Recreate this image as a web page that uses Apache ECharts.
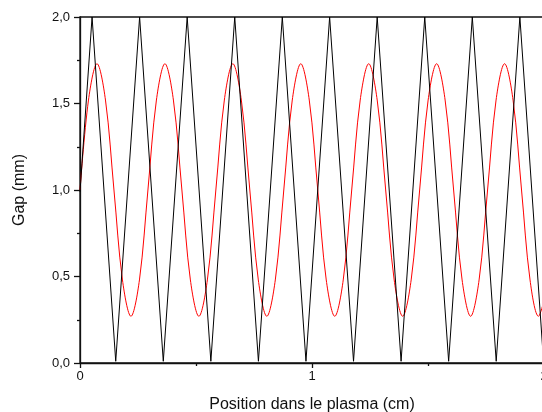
<!DOCTYPE html>
<html>
<head>
<meta charset="utf-8">
<script src="https://cdn.jsdelivr.net/npm/echarts@6/dist/echarts.min.js"></script>
<style>
html,body{margin:0;padding:0;background:#fff;}
#c{width:542px;height:412px;}
</style>
</head>
<body>
<div id="c"></div>
<script>
// Black triangle wave: vertex positions (cm) and gap (mm)
var blackX = [0, 0.052, 0.154, 0.257, 0.359, 0.462, 0.564, 0.667, 0.769, 0.872, 0.974,
              1.076, 1.179, 1.281, 1.384, 1.486, 1.589, 1.691, 1.794, 1.896, 1.998];
var blackY = [0.99, 2.0, 0.01, 2.0, 0.01, 2.0, 0.01, 2.0, 0.01, 2.0, 0.01,
              2.0, 0.01, 2.0, 0.01, 2.0, 0.01, 2.0, 0.01, 2.0, 0.01];

// Red curve: points (cm, mm)
var redX = [0, 0.0366, 0.0732, 0.1098, 0.1464, 0.1830, 0.2196, 0.2562,
            0.2928, 0.3294, 0.3660, 0.4026, 0.4392, 0.4758, 0.5124, 0.5490,
            0.5856, 0.6222, 0.6588, 0.6954, 0.7320, 0.7686, 0.8052, 0.8418,
            0.8784, 0.9150, 0.9516, 0.9882, 1.0248, 1.0614, 1.0980, 1.1346,
            1.1712, 1.2078, 1.2444, 1.2810, 1.3176, 1.3542, 1.3908, 1.4274,
            1.4640, 1.5006, 1.5372, 1.5738, 1.6104, 1.6470, 1.6836, 1.7202,
            1.7568, 1.7934, 1.8300, 1.8666, 1.9032, 1.9398, 1.9764, 2.0];
var redY = [1.00, 1.52, 1.73, 1.52, 1.00, 0.48, 0.27, 0.48,
            1.00, 1.52, 1.73, 1.52, 1.00, 0.48, 0.27, 0.48,
            1.00, 1.52, 1.73, 1.52, 1.00, 0.48, 0.27, 0.48,
            1.00, 1.52, 1.73, 1.52, 1.00, 0.48, 0.27, 0.48,
            1.00, 1.52, 1.73, 1.52, 1.00, 0.48, 0.27, 0.48,
            1.00, 1.52, 1.73, 1.52, 1.00, 0.48, 0.27, 0.48,
            1.00, 1.52, 1.73, 1.52, 1.00, 0.48, 0.27, 0.36];

var xTicks = [0, 1, 2];
var yTicks = [0, 0.5, 1.0, 1.5, 2.0];

var chart = echarts.init(document.getElementById('c'), null, {renderer: 'canvas'});
var font = 'Liberation Sans, Arial, sans-serif';

function pairs(xs, ys) { return xs.map(function (x, i) { return [x, ys[i]]; }); }

chart.setOption({
  animation: false,
  backgroundColor: '#fff',
  grid: {
    left: 80, top: 17, width: 464, height: 346,
    outerBoundsMode: 'none', containLabel: false,
    show: true, borderColor: '#111', borderWidth: 1.3, backgroundColor: 'transparent'
  },
  xAxis: {
    type: 'value', min: xTicks[0], max: xTicks[xTicks.length - 1], interval: 1,
    name: 'Position dans le plasma (cm)', nameLocation: 'middle', nameGap: 34,
    nameTextStyle: {fontFamily: font, fontSize: 16, color: '#111'},
    axisLine: {show: true, onZero: false, lineStyle: {color: '#111', width: 1.3}},
    axisTick: {show: true, length: 5, lineStyle: {color: '#111', width: 1.3}},
    minorTick: {show: true, splitNumber: 2, length: 3, lineStyle: {color: '#111', width: 1.3}},
    splitLine: {show: false},
    axisLabel: {fontFamily: font, fontSize: 13, color: '#111', margin: 7,
      formatter: function (v) { return String(v); }}
  },
  yAxis: {
    type: 'value', min: yTicks[0], max: yTicks[yTicks.length - 1], interval: 0.5,
    name: 'Gap (mm)', nameLocation: 'middle', nameGap: 52,
    nameTextStyle: {fontFamily: font, fontSize: 16, color: '#111'},
    axisLine: {show: true, onZero: false, lineStyle: {color: '#111', width: 1.3}},
    axisTick: {show: true, length: 6, lineStyle: {color: '#111', width: 1.3}},
    minorTick: {show: true, splitNumber: 2, length: 3, lineStyle: {color: '#111', width: 1.3}},
    splitLine: {show: false},
    axisLabel: {fontFamily: font, fontSize: 13, color: '#111', margin: 10,
      formatter: function (v) { return v.toFixed(1).replace('.', ','); }}
  },
  series: [
    {
      type: 'line', data: pairs(blackX, blackY), symbol: 'none',
      lineStyle: {color: '#000', width: 1}, z: 3
    },
    {
      type: 'line', data: pairs(redX, redY), symbol: 'none', smooth: 0.35,
      lineStyle: {color: '#ff0000', width: 1}, z: 2
    }
  ]
});
</script>
</body>
</html>
